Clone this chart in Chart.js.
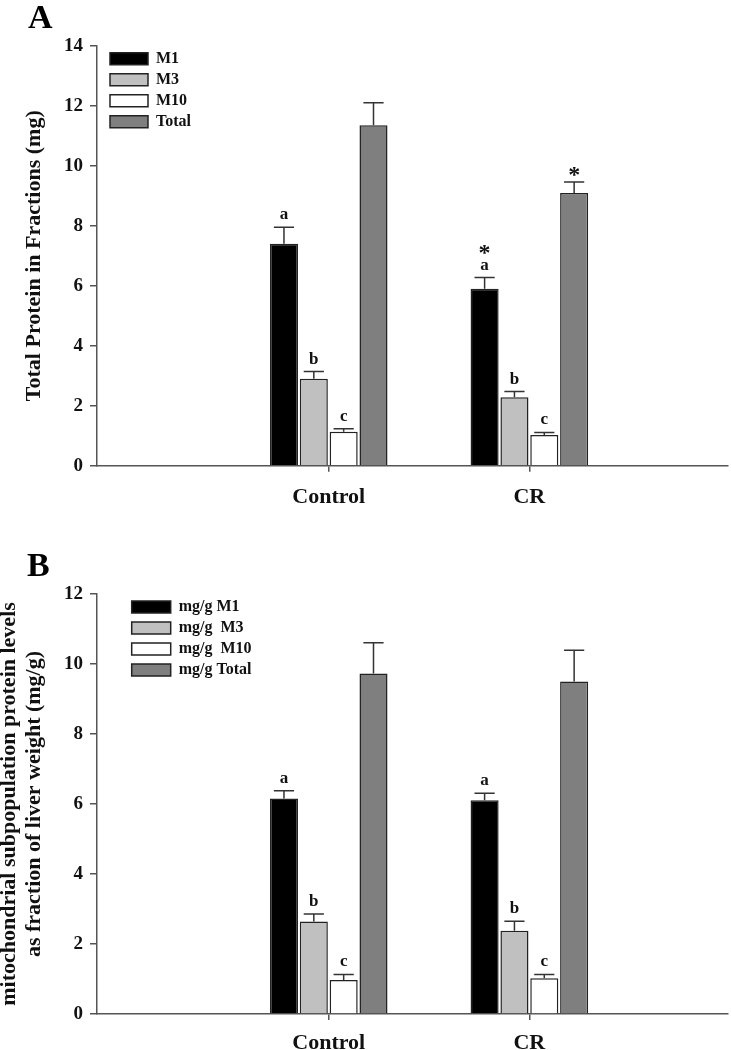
<!DOCTYPE html>
<html>
<head>
<meta charset="utf-8">
<script src="https://cdn.jsdelivr.net/npm/chart.js@4.4.0/dist/chart.umd.min.js"></script>
<style>
  body { margin: 0; background: #fff; width: 731px; height: 1050px; overflow: hidden; position: relative; }
  canvas { position: absolute; left: 0; }
  #chartA { top: 0; }
  #chartB { top: 520px; }
</style>
</head>
<body>
<canvas id="chartA" width="731" height="520"></canvas>
<canvas id="chartB" width="731" height="530"></canvas>
<script>
// ========== DATA ==========
const groups = ['Control', 'CR'];
const groupPos = [1, 2];

// panel A - total protein (mg)
const labelsA = ['M1', 'M3', 'M10', 'Total'];
const m1A = [7.4, 5.9];
const m3A = [2.9, 2.28];
const m10A = [1.13, 1.02];
const totalA = [11.35, 9.09];
const m1ErrA = [0.55, 0.37];
const m3ErrA = [0.24, 0.19];
const m10ErrA = [0.1, 0.09];
const totalErrA = [0.75, 0.37];
const m1MarkA = ['a', '*\na'];
const m3MarkA = ['b', 'b'];
const m10MarkA = ['c', 'c'];
const totalMarkA = ['', '*'];
const yTicksA = [0, 2, 4, 6, 8, 10, 12, 14];

// panel B - mg/g liver
const labelsB = ['mg/g M1', 'mg/g  M3', 'mg/g  M10', 'mg/g Total'];
const m1B = [6.16, 6.11];
const m3B = [2.64, 2.38];
const m10B = [0.97, 1.02];
const totalB = [9.73, 9.5];
const m1ErrB = [0.22, 0.2];
const m3ErrB = [0.22, 0.27];
const m10ErrB = [0.16, 0.11];
const totalErrB = [0.88, 0.89];
const m1MarkB = ['a', 'a'];
const m3MarkB = ['b', 'b'];
const m10MarkB = ['c', 'c'];
const totalMarkB = ['', ''];
const yTicksB = [0, 2, 4, 6, 8, 10, 12];

// ========== STYLE ==========
const SERIF = '"Liberation Serif", "Times New Roman", serif';
const fills = ['#000000', '#c0c0c0', '#ffffff', '#7f7f7f'];
const axisColor = '#555';
const textColor = '#111';

function makeDatasets(labels, values, errors, marks) {
    return labels.map((lab, i) => ({
        label: lab,
        data: values[i].map((v, j) => ({ x: groupPos[j], y: v })),
        errors: errors[i],
        marks: marks[i],
        backgroundColor: fills[i],
        borderColor: '#222',
        borderWidth: 1.5,
        categoryPercentage: 0.595,
        barPercentage: 0.94
    }));
}

// error bars (upper only) + significance letters
const errorBars = {
    id: 'errorBars',
    afterDatasetsDraw(chart) {
        const ctx = chart.ctx;
        const y = chart.scales.y;
        ctx.save();
        chart.data.datasets.forEach((ds, i) => {
            const meta = chart.getDatasetMeta(i);
            meta.data.forEach((bar, j) => {
                const top = y.getPixelForValue(ds.data[j].y + ds.errors[j]);
                const half = bar.width * 0.36;
                ctx.strokeStyle = '#333';
                ctx.lineWidth = 1.5;
                ctx.beginPath();
                ctx.moveTo(bar.x, bar.y);
                ctx.lineTo(bar.x, top);
                ctx.moveTo(bar.x - half, top);
                ctx.lineTo(bar.x + half, top);
                ctx.stroke();

                const mark = ds.marks[j];
                if (!mark) return;
                const lines = mark.split('\n');
                ctx.fillStyle = textColor;
                ctx.textAlign = 'center';
                ctx.textBaseline = 'alphabetic';
                let base = top;
                for (let k = lines.length - 1; k >= 0; k--) {
                    const star = lines[k] === '*';
                    if (k === lines.length - 1) base = top - (star ? 0 : 8);
                    else base -= star ? 10 : 17;
                    ctx.font = star ? 'bold 24px ' + SERIF : 'bold 17px ' + SERIF;
                    ctx.fillText(lines[k], bar.x, base);
                }
            });
        });
        ctx.restore();
    }
};

// panel letter + legend placed inside the plot area
const panelTag = {
    id: 'panelTag',
    afterLayout(chart, args, opts) {
        const lg = chart.legend;
        if (!lg) return;
        const h = lg.height, w = lg.width;
        lg.left = chart.chartArea.left + opts.legendDx;
        lg.top = chart.chartArea.top;
        lg.right = lg.left + w;
        lg.bottom = lg.top + h;
    },
    afterDraw(chart, args, opts) {
        const ctx = chart.ctx;
        ctx.save();
        ctx.font = 'bold 34px ' + SERIF;
        ctx.fillStyle = '#000';
        ctx.textBaseline = 'alphabetic';
        ctx.fillText(opts.text, opts.x, opts.y);
        ctx.restore();
    }
};

function makeChart(id, cfg) {
    const tickFont = { family: SERIF, size: 19, weight: 'bold' };
    return new Chart(document.getElementById(id), {
        type: 'bar',
        data: { datasets: cfg.datasets },
        options: {
            responsive: false,
            animation: false,
            devicePixelRatio: 1,
            layout: { padding: cfg.padding },
            plugins: {
                legend: {
                    position: 'chartArea',
                    align: 'start',
                    labels: {
                        boxWidth: cfg.boxWidth,
                        boxHeight: 12,
                        padding: 5,
                        color: textColor,
                        font: { family: SERIF, size: 16, weight: 'bold' }
                    }
                },
                tooltip: { enabled: false },
                panelTag: cfg.tag
            },
            scales: {
                x: {
                    type: 'linear',
                    min: -0.155,
                    max: 2.99,
                    offset: false,
                    afterBuildTicks: s => { s.ticks = groupPos.map(v => ({ value: v })); },
                    afterFit: s => { s.height = cfg.xHeight; },
                    ticks: {
                        callback: v => groups[groupPos.indexOf(v)],
                        color: textColor,
                        padding: cfg.xPad,
                        maxRotation: 0,
                        autoSkip: false,
                        font: { family: SERIF, size: 22, weight: 'bold' }
                    },
                    grid: { offset: false, drawOnChartArea: false, tickLength: 6, color: axisColor, lineWidth: 1.5 },
                    border: { color: axisColor, width: 1.5 }
                },
                y: {
                    min: 0,
                    max: cfg.yTicks[cfg.yTicks.length - 1],
                    afterBuildTicks: s => { s.ticks = cfg.yTicks.map(v => ({ value: v })); },
                    afterFit: s => { s.width = 97; },
                    ticks: { color: textColor, padding: 7, font: tickFont },
                    grid: { drawOnChartArea: false, tickLength: 7, color: axisColor, lineWidth: 1.5 },
                    border: { color: axisColor, width: 1.5 },
                    title: {
                        display: true,
                        text: cfg.yTitle,
                        color: textColor,
                        padding: { top: cfg.titlePad, bottom: 0 },
                        font: { family: SERIF, size: 22, weight: 'bold', lineHeight: cfg.titleLH }
                    }
                }
            }
        },
        plugins: [errorBars, panelTag]
    });
}

makeChart('chartA', {
    datasets: makeDatasets(labelsA, [m1A, m3A, m10A, totalA],
        [m1ErrA, m3ErrA, m10ErrA, totalErrA], [m1MarkA, m3MarkA, m10MarkA, totalMarkA]),
    yTicks: yTicksA,
    yTitle: 'Total Protein in Fractions (mg)',
    titlePad: 21.4,
    titleLH: 1.2,
    boxWidth: 38,
    xPad: 12,
    xHeight: 54,
    padding: { left: 0, right: 3, top: 45.7, bottom: 0.3 },
    tag: { text: 'A', x: 28, y: 28, legendDx: 8 }
});

makeChart('chartB', {
    datasets: makeDatasets(labelsB, [m1B, m3B, m10B, totalB],
        [m1ErrB, m3ErrB, m10ErrB, totalErrB], [m1MarkB, m3MarkB, m10MarkB, totalMarkB]),
    yTicks: yTicksB,
    yTitle: ['mitochondrial subpopulation protein levels', 'as fraction of liver weight (mg/g)'],
    titlePad: -3,
    titleLH: 1.14,
    boxWidth: 39,
    xPad: 10,
    xHeight: 36,
    padding: { left: 0, right: 3, top: 74, bottom: 0 },
    tag: { text: 'B', x: 27, y: 56, legendDx: 29.7 }
});
</script>
</body>
</html>
